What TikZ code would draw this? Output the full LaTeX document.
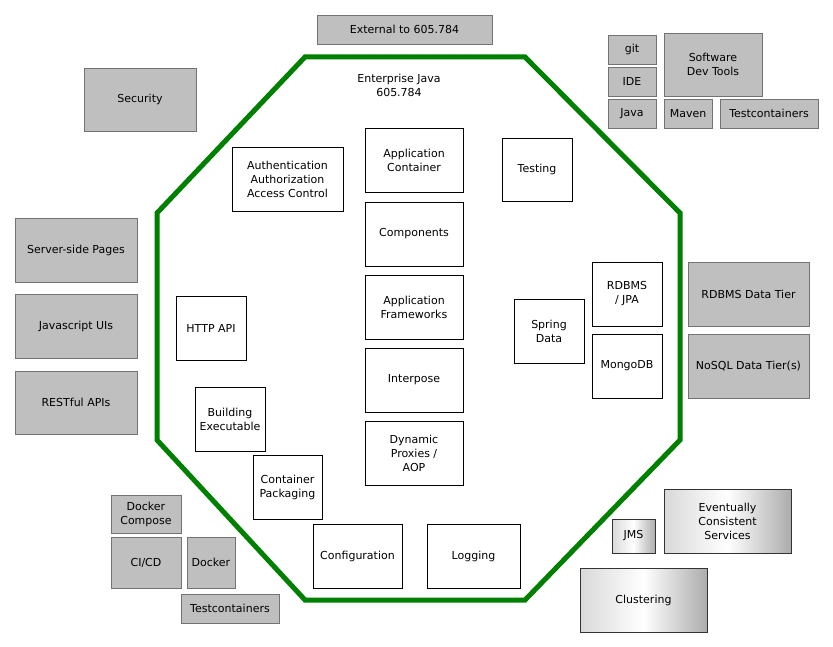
\documentclass[tikz,border=0pt]{standalone}
\usepackage{fontspec}
\setmainfont{DejaVu Sans}
\begin{document}
\begin{tikzpicture}[x=1pt,y=-1pt,
    every node/.style={font=\fontsize{11}{14}\selectfont, align=center, inner sep=0pt},
    inbox/.style={draw=black, fill=white, line width=0.8pt},
    extbox/.style={draw=black!55, fill=gray!50, line width=0.8pt},
    fadebox/.style={draw=black!80, line width=0.8pt, left color=gray!30, right color=gray!65, middle color=white},
    col/.style={inbox, minimum width=98pt, minimum height=64pt},
    sq/.style={inbox, minimum width=70pt, minimum height=64pt},
    tab/.style={extbox, minimum width=48pt, minimum height=29pt},
    wide/.style={extbox, minimum width=122pt, minimum height=64pt}]
  \useasboundingbox (0,0) rectangle (833,647);
  % course boundary
  \draw[green!50!black, line width=5pt, line join=miter]
    (305,57) -- (525,57) -- (680,213) -- (680,440) -- (525,600)
    -- (305,600) -- (157,440) -- (157,213) -- cycle;
  \node (title) at (399,85) {Enterprise Java\\605.784};
  % core column
  \node[col] (appcont) at (414,160) {Application\\Container};
  \node[col] (comp) at (414,234) {Components};
  \node[col] (appfw) at (414,307) {Application\\Frameworks};
  \node[col] (interp) at (414,380) {Interpose};
  \node[col] (dynprox) at (414,453) {Dynamic\\Proxies /\\AOP};
  % inside the boundary
  \node[inbox, minimum width=111pt, minimum height=64pt] (auth) at (287.5,179)
    {Authentication\\Authorization\\Access Control};
  \node[sq, minimum height=63pt] (testing) at (537,169.5) {Testing};
  \node[sq] (httpapi) at (211,328) {HTTP API};
  \node[sq] (buildexe) at (230,419) {Building\\Executable};
  \node[sq, minimum width=69pt] (contpkg) at (287.5,487) {Container\\Packaging};
  \node[inbox, minimum width=89pt, minimum height=64pt] (config) at (357.5,556) {Configuration};
  \node[inbox, minimum width=93pt, minimum height=64pt] (logging) at (473.5,556) {Logging};
  \node[sq] (springdata) at (549,331) {Spring\\Data};
  \node[sq] (rdbms) at (627,294) {RDBMS\\/ JPA};
  \node[sq] (mongo) at (627,366) {MongoDB};
  % external to the course
  \node[extbox, minimum width=175pt, minimum height=29pt] (external) at (404.5,29.5) {External to 605.784};
  \node[extbox, minimum width=112pt, minimum height=63pt] (security) at (140,99.5) {Security};
  \node[tab] (git) at (632,49.5) {git};
  \node[tab] (ide) at (632,81.5) {IDE};
  \node[tab] (java) at (632,113.5) {Java};
  \node[extbox, minimum width=98pt, minimum height=63pt] (devtools) at (713,64.5) {Software\\Dev Tools};
  \node[tab] (maven) at (688,113.5) {Maven};
  \node[tab, minimum width=98pt] (tcdev) at (769,113.5) {Testcontainers};
  \node[wide] (pages) at (76,250) {Server-side Pages};
  \node[wide] (jsui) at (76,326) {Javascript UIs};
  \node[wide, minimum height=63pt] (rest) at (76,402.5) {RESTful APIs};
  \node[wide, minimum width=121pt] (rdbmstier) at (748.5,294) {RDBMS Data Tier};
  \node[wide, minimum width=121pt] (nosqltier) at (748.5,366) {NoSQL Data Tier(s)};
  \node[extbox, minimum width=70pt, minimum height=38pt] (compose) at (146,514) {Docker\\Compose};
  \node[extbox, minimum width=70pt, minimum height=51pt] (cicd) at (146,562.5) {CI/CD};
  \node[extbox, minimum width=48pt, minimum height=51pt] (docker) at (211,562.5) {Docker};
  \node[tab, minimum width=98pt] (tcdeploy) at (230,608.5) {Testcontainers};
  % shaded topics
  \node[fadebox, minimum width=43pt, minimum height=34pt] (jms) at (633.5,536) {JMS};
  \node[fadebox, minimum width=127pt, minimum height=64pt] (eventual) at (727.5,521)
    {Eventually\\Consistent\\Services};
  \node[fadebox, minimum width=127pt, minimum height=64pt] (cluster) at (643.5,600) {Clustering};
\end{tikzpicture}
\end{document}
